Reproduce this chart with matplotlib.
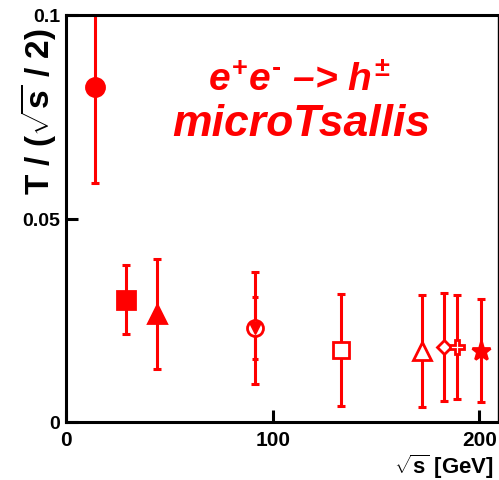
import matplotlib
matplotlib.use("Agg")
import matplotlib.pyplot as plt

# T / (sqrt(s)/2) from the microTsallis fits to e+e- -> h+- spectra
sqrt_s = [14, 29, 44, 91.2, 133, 172, 183, 189, 201]
t_ratio = [0.0823, 0.0300, 0.0265, 0.0231, 0.0177, 0.0175, 0.0184, 0.0184, 0.0175]
t_err = [0.0235, 0.0085, 0.0135, 0.0137, 0.0137, 0.0138, 0.0132, 0.0128, 0.0126]
# inner (statistical) error on the Z-pole point
z_stat_err = 0.0075

markers = ["o", "s", "^", "o", "s", "^", "D", "P", "*"]
filled = [True, True, True, False, False, False, False, False, True]
sizes = [13, 13, 13, 11.5, 12, 13.5, 7, 10, 14]

x_ticks = [0, 100, 200]
y_ticks = [0, 0.05, 0.1]
y_tick_labels = ["0", "0.05", "0.1"]

RED = "#ff0000"

plt.rcParams["font.family"] = ["Liberation Sans", "DejaVu Sans"]
plt.rcParams["font.weight"] = "bold"
plt.rcParams["mathtext.fontset"] = "custom"
plt.rcParams["mathtext.rm"] = "Liberation Sans:bold"
plt.rcParams["mathtext.bf"] = "Liberation Sans:bold"
plt.rcParams["mathtext.it"] = "Liberation Sans:bold:italic"

fig = plt.figure(figsize=(4.99, 4.81), dpi=100)
ax = fig.add_axes([66 / 499, 58 / 481, 432 / 499, 407 / 481])

for i in range(len(sqrt_s)):
    face = RED if filled[i] else "white"
    ax.errorbar(sqrt_s[i], t_ratio[i], yerr=t_err[i], fmt="none",
                ecolor=RED, elinewidth=2.2, capsize=3, capthick=2.2)
    ax.plot(sqrt_s[i], t_ratio[i], marker=markers[i], ms=sizes[i],
            mfc=face, mec=RED, mew=2, ls="none", zorder=3)

# stat-only caps and the overlaid triangle at the Z pole
ax.errorbar(sqrt_s[3], t_ratio[3], yerr=z_stat_err, fmt="none",
            ecolor=RED, elinewidth=2.2, capsize=2.5, capthick=2.2)
ax.plot(sqrt_s[3], t_ratio[3], marker="v", ms=9, mfc=RED, mec=RED,
        ls="none", zorder=4)

ax.set_xlim(0, 209)
ax.set_ylim(0, 0.1)
ax.set_xticks(x_ticks)
ax.set_yticks(y_ticks)
ax.set_yticklabels(y_tick_labels)
ax.tick_params(direction="in", length=8.5, width=2.2)
ax.tick_params(axis="x", pad=6, labelsize=15)
ax.tick_params(axis="y", pad=4, labelsize=14)
for side in ax.spines.values():
    side.set_linewidth(2.2)
ax.spines["right"].set_linewidth(1.0)

# axis titles placed in figure pixels
fig.text(38 / 499, 1 - 112 / 481, r"T / ($\sqrt{\mathbf{s}}$ / 2)",
         fontsize=24, weight="bold", rotation=90, ha="center", va="center")
fig.text(494 / 499, 1 - 474 / 481, r"$\sqrt{\mathbf{s}}$ [GeV]",
         fontsize=16, weight="bold", ha="right", va="baseline")

ax.text(0.54, 0.815, r"$e^{+}e^{\text{-}}$ –> $h^{\pm}$",
        transform=ax.transAxes, color=RED, fontsize=28, style="italic",
        weight="bold", ha="center")
ax.text(0.545, 0.705, "microTsallis", transform=ax.transAxes,
        color=RED, fontsize=32, style="italic", weight="bold", ha="center")

fig.savefig("out.png", dpi=100)
